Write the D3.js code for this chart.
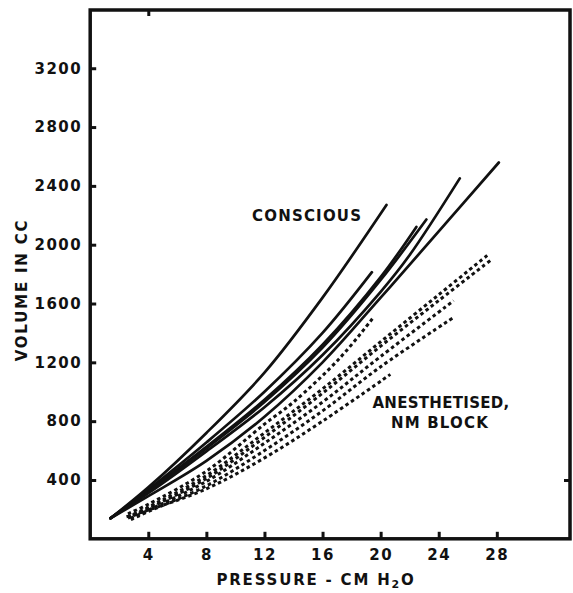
<!DOCTYPE html>
<html><head><meta charset="utf-8">
<script src="https://cdn.jsdelivr.net/npm/d3@7"></script>
<style>
html,body{margin:0;padding:0;background:#fff;}
svg text{font-family:"DejaVu Sans",sans-serif;font-weight:bold;fill:#111;}
</style></head>
<body><svg id="chart" width="573" height="593"></svg>
<script>
// Tick values
const xTicks = [4, 8, 12, 16, 20, 24, 28];
const yTicks = [400, 800, 1200, 1600, 2000, 2400, 2800, 3200];

// Conscious subjects (solid curves): [pressure cm H2O, volume cc]
const consciousA = [[1.4,140],[4,350],[8,720],[12,1130],[16,1640],[20.4,2270]];
const consciousB = [[1.4,140],[4,335],[8,655],[12,1000],[16,1400],[19.4,1813]];
const consciousC = [[1.4,140],[4,325],[8,625],[12,945],[16,1320],[20,1780],[22.46,2121]];
const consciousD = [[1.4,140],[4,320],[8,615],[12,930],[16,1300],[20,1760],[23.15,2171]];
const consciousE = [[1.4,140],[4,310],[8,595],[12,895],[16,1250],[20,1680],[22,1930],[25.45,2451]];
const consciousF = [[1.4,140],[4,290],[8,530],[12,830],[16,1200],[20,1640],[24,2090],[28.14,2559]];

// Anesthetised, NM block (dotted curves)
const anesA = [[2.6,170],[4,235],[8,460],[12,780],[14,930],[17.2,1230],[19.5,1505]];
const anesB = [[2.6,150],[4,215],[8,430],[12,720],[16,1020],[20,1340],[24,1660],[27.34,1927]];
const anesC = [[2.6,140],[4,205],[8,410],[12,690],[16,990],[20,1310],[24,1620],[27.56,1893]];
const anesD = [[2.8,140],[4,195],[8,390],[12,650],[16,930],[20,1240],[25.03,1619]];
const anesE = [[2.8,130],[4,185],[8,360],[12,600],[16,870],[20,1170],[25.03,1506]];
const anesF = [[2.5,150],[4,195],[8,340],[12,550],[16,800],[20.67,1118]];

const consciousSeries = [consciousA, consciousB, consciousC, consciousD, consciousE, consciousF];
const anesSeries = [anesA, anesB, anesC, anesD, anesE, anesF];

const svg = d3.select("#chart");
const x = d3.scaleLinear().domain([0, 33.04]).range([90.2, 570]);
const y = d3.scaleLinear().domain([0, 3596]).range([538.8, 10]);

const line = d3.line().x(d => x(d[0])).y(d => y(d[1])).curve(d3.curveCatmullRom.alpha(0.5));

// Curves
svg.append("g").selectAll("path").data(consciousSeries).join("path")
  .attr("d", line).attr("fill", "none").attr("stroke", "#111")
  .attr("stroke-width", 2.7).attr("stroke-linecap", "round");
svg.append("g").selectAll("path").data(anesSeries).join("path")
  .attr("d", line).attr("fill", "none").attr("stroke", "#111")
  .attr("stroke-width", 3).attr("stroke-dasharray", "3.5,3");

// Axes
const fmt = d3.format("d");
const xAxis = d3.axisBottom(x).tickValues(xTicks).tickFormat(fmt).tickSizeInner(-7).tickSizeOuter(0).tickPadding(11);
const gx = svg.append("g").attr("transform", `translate(0,${y(0)})`).call(xAxis);
const yAxis = d3.axisLeft(y).tickValues(yTicks).tickFormat(fmt).tickSizeInner(-6).tickSizeOuter(0).tickPadding(8);
const gy = svg.append("g").attr("transform", `translate(${x(0)},0)`).call(yAxis);
[gx, gy].forEach(g => {
  g.select(".domain").remove();
  g.selectAll(".tick line").attr("stroke", "#111").attr("stroke-width", 3);
  g.selectAll(".tick text").attr("font-size", 15).attr("letter-spacing", "1.5px")
    .attr("fill", "#111").style("font-family", "'DejaVu Sans',sans-serif").style("font-weight", "bold");
});

// Extra ticks on top and right
const topAxis = d3.axisTop(x).tickValues([4]).tickSizeInner(-6).tickSizeOuter(0).tickFormat("");
svg.append("g").attr("transform", `translate(0,${y(3596)})`).call(topAxis)
  .call(g => { g.select(".domain").remove(); g.selectAll("line").attr("stroke","#111").attr("stroke-width",3); });
const rightAxis = d3.axisRight(y).tickValues([400]).tickSizeInner(-6).tickSizeOuter(0).tickFormat("");
svg.append("g").attr("transform", `translate(${x(33.04)},0)`).call(rightAxis)
  .call(g => { g.select(".domain").remove(); g.selectAll("line").attr("stroke","#111").attr("stroke-width",3); });

// Frame
svg.append("rect").attr("x", x(0)).attr("y", y(3596))
  .attr("width", x(33.04) - x(0)).attr("height", y(0) - y(3596))
  .attr("fill", "none").attr("stroke", "#111").attr("stroke-width", 3.5);

// Titles
const xt = svg.append("text").attr("x", 316).attr("y", 585).attr("text-anchor", "middle")
  .attr("font-size", 15).attr("letter-spacing", "1.8px");
xt.append("tspan").text("PRESSURE - CM H");
xt.append("tspan").attr("font-size", 11).attr("dy", 3).text("2");
xt.append("tspan").attr("dy", -3).text("O");

svg.append("text").attr("transform", "translate(27,290) rotate(-90)").attr("text-anchor", "middle")
  .attr("font-size", 15).attr("letter-spacing", "1.8px").text("VOLUME IN CC");

svg.append("text").attr("x", 252).attr("y", 221).attr("font-size", 15).attr("letter-spacing", "1.2px").text("CONSCIOUS");
svg.append("text").attr("x", 441).attr("y", 408).attr("text-anchor", "middle").attr("font-size", 15).attr("letter-spacing", "0.3px").text("ANESTHETISED,");
svg.append("text").attr("x", 440).attr("y", 428).attr("text-anchor", "middle").attr("font-size", 15).attr("letter-spacing", "1.2px").text("NM BLOCK");
</script></body></html>
